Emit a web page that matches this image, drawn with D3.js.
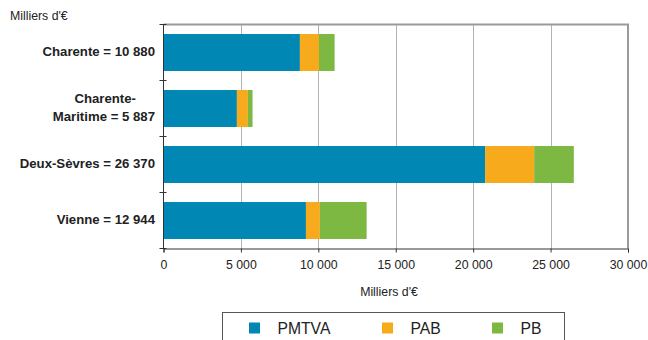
<!DOCTYPE html>
<html><head><meta charset="utf-8">
<script src="https://cdn.jsdelivr.net/npm/d3@7"></script>
<style>body{margin:0;background:#fff}svg{display:block;font-family:"Liberation Sans",Arial,sans-serif}</style>
</head><body><svg id="c" width="648" height="340"></svg>
<script>
const categories = [["Charente = 10 880"], ["Charente-", "Maritime = 5 887"], ["Deux-Sèvres = 26 370"], ["Vienne = 12 944"]];
const seriesNames = ["PMTVA", "PAB", "PB"];
const PMTVA = [8810, 4740, 20770, 9200];
const PAB = [1230, 710, 3170, 900];
const PB = [1010, 300, 2560, 3020];
const xTicks = [0, 5000, 10000, 15000, 20000, 25000, 30000];
const colors = ["#0087b4", "#f7aa1c", "#7cb842"];

const svg = d3.select("#c");
const L = 163.5, R = 628, T = 24.5, B = 248.5;
const x = d3.scaleLinear().domain([0, 30000]).range([L, R]);
const y = d3.scaleBand().domain(d3.range(categories.length)).range([T, B]).paddingInner(0.34).paddingOuter(0.17);
const band = d3.scaleBand().domain(d3.range(categories.length)).range([T, B]);

// gridlines
svg.append("g").selectAll("line").data(xTicks.slice(1, -1)).join("line")
  .attr("x1", d => Math.round(x(d)) + 0.5).attr("x2", d => Math.round(x(d)) + 0.5)
  .attr("y1", T).attr("y2", B).attr("stroke", "#b3b3b3").attr("stroke-width", 1);

// bars
const rows = categories.map((c, i) => ({i, PMTVA: PMTVA[i], PAB: PAB[i], PB: PB[i]}));
const stack = d3.stack().keys(seriesNames)(rows);
svg.append("g").selectAll("g").data(stack).join("g").attr("fill", (d, k) => colors[k])
  .selectAll("rect").data(d => d).join("rect")
  .attr("x", d => x(d[0])).attr("width", d => x(d[1]) - x(d[0]))
  .attr("y", (d, i) => y(i)).attr("height", y.bandwidth());

// top/right border
svg.append("path").attr("d", `M${L},${T} H${R} V${B}`).attr("fill", "none")
  .attr("stroke", "#9a9a9a").attr("stroke-width", 2);

// x axis
const xa = svg.append("g").attr("transform", `translate(0,${B})`)
  .call(d3.axisBottom(x).tickValues(xTicks).tickSize(4).tickPadding(8)
    .tickFormat(d => d3.format(",")(d).replace(/,/g, " ")));
xa.select(".domain").attr("stroke", "#333");
xa.selectAll(".tick line").attr("stroke", "#333");
xa.selectAll("text").attr("font-size", 12.3).attr("fill", "#222").attr("font-family", "Liberation Sans, Arial");

// y axis ticks at band boundaries
const ya = svg.append("g").attr("transform", `translate(${L},0)`);
ya.append("line").attr("x1", 0).attr("x2", 0).attr("y1", T).attr("y2", B).attr("stroke", "#333");
ya.selectAll("line.t").data(d3.range(categories.length + 1)).join("line").attr("class", "t")
  .attr("x1", -4).attr("x2", 3).attr("y1", d => T + d * band.bandwidth()).attr("y2", d => T + d * band.bandwidth())
  .attr("stroke", "#333");

// category labels
categories.forEach((lines, i) => {
  const cy = band(i) + band.bandwidth() / 2 - 1;
  const t = svg.append("text").attr("text-anchor", "end").attr("font-weight", "bold")
    .attr("font-size", 13.2).attr("fill", "#222");
  lines.forEach((s, j) => {
    t.append("tspan").attr("x", s.endsWith("-") ? 136 : 155)
      .attr("y", cy + 4.5 + (j - (lines.length - 1) / 2) * 18.5).text(s);
  });
});

// titles
svg.append("text").attr("x", 10).attr("y", 20).attr("font-size", 12.3).attr("fill", "#222").text("Milliers d'€");
svg.append("text").attr("x", 389).attr("y", 296).attr("text-anchor", "middle").attr("font-size", 12.3).attr("fill", "#222").text("Milliers d'€");

// legend
svg.append("rect").attr("x", 222.5).attr("y", 312.5).attr("width", 342).attr("height", 40)
  .attr("fill", "none").attr("stroke", "#555");
const lx = [249, 382, 492];
seriesNames.forEach((n, k) => {
  svg.append("rect").attr("x", lx[k]).attr("y", 322.5).attr("width", 11).attr("height", 11).attr("fill", colors[k]);
  svg.append("text").attr("x", lx[k] + 28.5).attr("y", 333.5).attr("font-size", 15.7).attr("fill", "#222").text(n);
});
</script></body></html>
